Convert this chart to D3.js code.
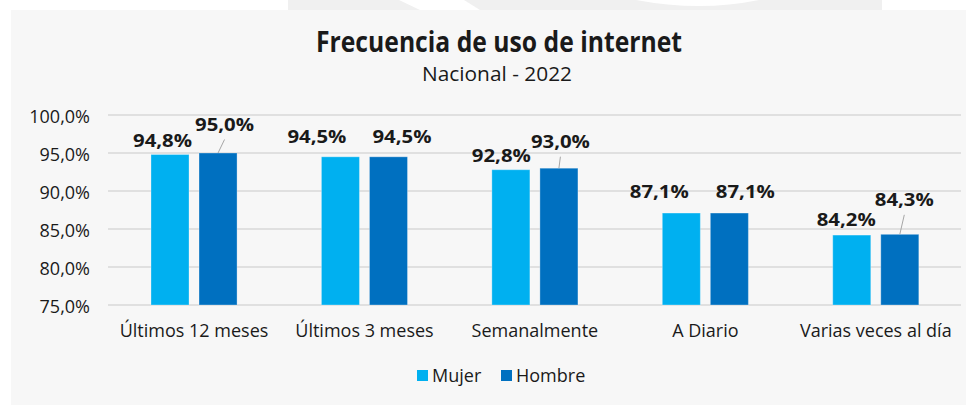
<!DOCTYPE html>
<html>
<head>
<meta charset="utf-8">
<script src="https://cdn.jsdelivr.net/npm/d3@7"></script>
<style>
  html, body { margin: 0; padding: 0; background: #ffffff; }
  svg { display: block; }
  text { font-family: "Open Sans", "Noto Sans", sans-serif; fill: #1a1a1a; }
</style>
</head>
<body>
<svg id="chart" width="966" height="405"></svg>
<script>
// ---- data ----
const categories = ["Últimos 12 meses", "Últimos 3 meses", "Semanalmente", "A Diario", "Varias veces al día"];
const seriesNames = ["Mujer", "Hombre"];
const mujer = [94.8, 94.5, 92.8, 87.1, 84.2];
const hombre = [95.0, 94.5, 93.0, 87.1, 84.3];
const yTicks = [75, 80, 85, 90, 95, 100];
const colors = ["#00B0F0", "#0070C0"];
const titleText = "Frecuencia de uso de internet";
const subtitleText = "Nacional - 2022";

// label nudges (dx from bar centre, gap of baseline above bar top), leader flags
const labelNudgeMujer = [[-7.5, 8], [-23.5, 14], [-9.5, 8], [-22, 15], [-5.5, 9]];
const labelNudgeHombre = [[6.5, 22], [13.5, 14], [1.5, 20], [16, 15], [4.5, 28]];
const leaderHombre = [true, false, true, false, true];

const fmt = v => d3.format(".1f")(v).replace(".", ",") + "%";

const svg = d3.select("#chart");

// watermark strip at top
const wm = svg.append("g");
wm.append("rect").attr("x", 288).attr("y", 0).attr("width", 594).attr("height", 10).attr("fill", "#f0f0f0");
wm.append("path").attr("d", "M399,0 L464,0 L480,10 L420,10 Z").attr("fill", "#ffffff");
wm.append("path").attr("d", "M636,0 Q700,12 759,0 Z").attr("fill", "#ffffff");

// panel
svg.append("rect").attr("x", 11).attr("y", 10).attr("width", 955).attr("height", 395).attr("fill", "#f7f7f7");

// scales
const x0 = d3.scaleBand().domain(categories).range([108.8, 961]).paddingInner(0.495).paddingOuter(0.2475);
const x1 = d3.scaleBand().domain(seriesNames).range([0, x0.bandwidth()]).paddingInner(0.2083).paddingOuter(0);
const y = d3.scaleLinear().domain([75, 100]).range([305, 115]);

// gridlines
const grid = svg.append("g");
grid.selectAll("line").data(yTicks).join("line")
  .attr("x1", 108).attr("x2", 961)
  .attr("y1", d => y(d)).attr("y2", d => y(d))
  .attr("stroke", "#d9d9d9").attr("stroke-width", 1.5);

// y axis labels
const yAxis = d3.axisLeft(y).tickValues(yTicks).tickFormat(fmt).tickSize(0).tickPadding(0);
const yg = svg.append("g").attr("transform", "translate(90,0)").call(yAxis);
yg.select(".domain").remove();
yg.selectAll("text").attr("font-size", 18).attr("font-family", "'Open Sans', sans-serif")
  .attr("fill", "#1a1a1a").attr("dy", "0.42em");

// x axis labels
const xAxis = d3.axisBottom(x0).tickSize(0).tickPadding(0);
const xg = svg.append("g").attr("transform", "translate(0,305)").call(xAxis);
xg.select(".domain").remove();
xg.selectAll("text").attr("font-size", 18).attr("font-family", "'Open Sans', sans-serif")
  .attr("fill", "#1a1a1a").attr("dy", null).attr("y", 32);

// bars
const rows = categories.map((c, i) => ({ cat: c, i, vals: [mujer[i], hombre[i]] }));
const groups = svg.append("g").selectAll("g").data(rows).join("g")
  .attr("transform", d => `translate(${x0(d.cat)},0)`);
groups.selectAll("rect").data(d => d.vals.map((v, k) => ({ v, k, i: d.i }))).join("rect")
  .attr("x", d => x1(seriesNames[d.k]))
  .attr("y", d => y(d.v))
  .attr("width", x1.bandwidth())
  .attr("height", d => y(75) - y(d.v))
  .attr("fill", d => colors[d.k])
  .attr("stroke", "rgba(255,255,255,0.3)").attr("stroke-width", 1);

// labels
const labs = [];
rows.forEach(r => {
  [0, 1].forEach(k => {
    const nud = k === 0 ? labelNudgeMujer[r.i] : labelNudgeHombre[r.i];
    const cx = x0(r.cat) + x1(seriesNames[k]) + x1.bandwidth() / 2;
    const top = y(r.vals[k]);
    labs.push({ v: r.vals[k], cx, top, lx: cx + nud[0], ly: top - nud[1], leader: k === 1 && leaderHombre[r.i] });
  });
});
svg.append("g").selectAll("line").data(labs.filter(d => d.leader)).join("line")
  .attr("x1", d => d.lx).attr("y1", d => d.ly + 8.5)
  .attr("x2", d => d.cx).attr("y2", d => d.top)
  .attr("stroke", "#a6a6a6").attr("stroke-width", 1);
svg.append("g").selectAll("text").data(labs).join("text")
  .attr("x", d => d.lx).attr("y", d => d.ly)
  .attr("text-anchor", "middle").attr("font-size", 18).attr("font-weight", 700)
  .attr("fill", "#111")
  .attr("textLength", 59).attr("lengthAdjust", "spacingAndGlyphs")
  .text(d => fmt(d.v));

// title
svg.append("text").attr("x", 499).attr("y", 52).attr("text-anchor", "middle")
  .attr("font-size", 28).attr("font-weight", 700).attr("fill", "#111")
  .attr("textLength", 366).attr("lengthAdjust", "spacingAndGlyphs")
  .text(titleText);
svg.append("text").attr("x", 497).attr("y", 81).attr("text-anchor", "middle")
  .attr("font-size", 20).attr("fill", "#1a1a1a")
  .attr("textLength", 150).attr("lengthAdjust", "spacingAndGlyphs")
  .text(subtitleText);

// legend
const legendX = [417, 501];
const lg = svg.append("g").selectAll("g").data(seriesNames).join("g")
  .attr("transform", (d, i) => `translate(${legendX[i]},370)`);
lg.append("rect").attr("width", 11).attr("height", 11).attr("fill", (d, i) => colors[i]);
lg.append("text").attr("x", 15).attr("y", 11.5).attr("font-size", 18).attr("fill", "#1a1a1a").text(d => d);
</script>
</body>
</html>
